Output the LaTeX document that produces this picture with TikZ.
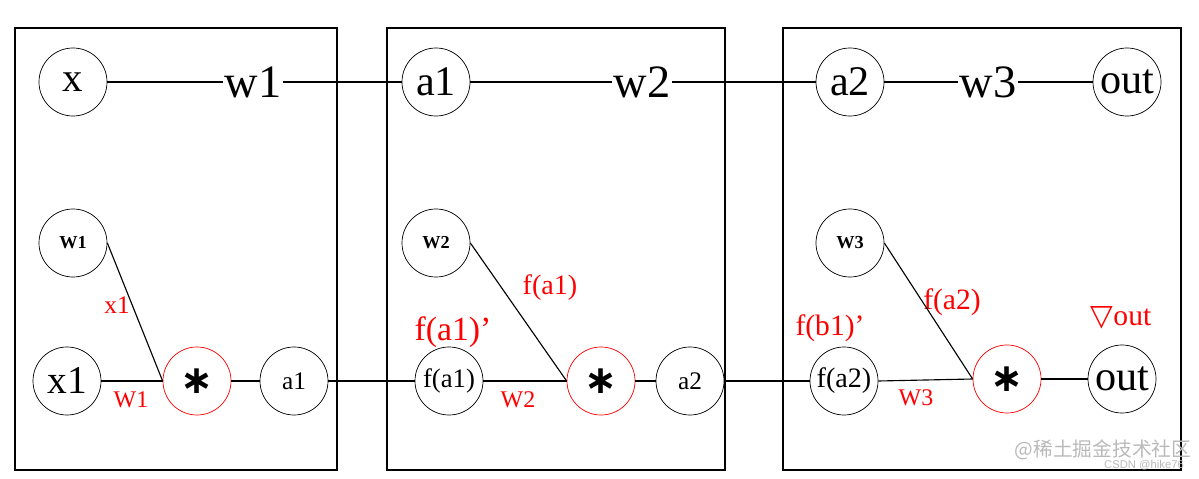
\documentclass[tikz,border=0pt]{standalone}
\usepackage{fontspec}
\setmainfont{Liberation Serif}
\newfontfamily\symfont{DejaVu Sans}
\newfontfamily\cjkfont{Noto Sans CJK SC}
\newfontfamily\wmfont{Liberation Sans}
\usetikzlibrary{positioning}
\newcommand{\fs}[1]{\fontsize{#1}{#1}\selectfont}

\begin{document}
\begin{tikzpicture}[x=0.025cm,y=-0.025cm,
    neuron/.style={draw,circle,minimum size=1.7cm,inner sep=0pt,line width=0.5pt},
    mult/.style={neuron,draw=red},
    frame/.style={draw,line width=0.9pt},
    link/.style={draw,line width=0.8pt},
    weight/.style={inner sep=1pt,font=\fs{33}},
    grad/.style={text=red,inner sep=1pt}]
    \useasboundingbox (0,0) rectangle (1199,479);
    
    % three frames
    \draw[frame] (15,28) rectangle (337,470);
    \draw[frame] (387,28) rectangle (725,470);
    \draw[frame] (783,28) rectangle (1181,470);
    
    % forward row
    \node[neuron,font=\fs{29}] (x) at (73,82) {x};
    \node[weight] (w1) at (253,82) {w1};
    \node[neuron,font=\fs{30}] (a1t) at (436,82) {a1};
    \node[weight] (w2) at (642,82) {w2};
    \node[neuron,font=\fs{30}] (a2t) at (850,82) {a2};
    \node[weight] (w3) at (988,82) {w3};
    \node[neuron,font=\fs{30}] (outt) at (1127,82) {out};
    
    \draw[link] (x) -- (w1);
    \draw[link] (w1) -- (a1t);
    \draw[link] (a1t) -- (w2);
    \draw[link] (w2) -- (a2t);
    \draw[link] (a2t) -- (w3);
    \draw[link] (w3) -- (outt);
    
    % first frame
    \node[neuron,font=\fs{13}\bfseries] (W1) at (73,243) {W1};
    \node[neuron,font=\fs{28}] (x1) at (67,381) {x1};
    \node[mult,font=\symfont\bfseries\fs{28}] (m1) at (197,381) {∗};
    \node[neuron,font=\fs{18}] (a1) at (294,381) {a1};
    \node[grad,font=\fs{18}] (gx1) at (117,305) {x1};
    \node[grad,font=\fs{17}] (gW1) at (131,400) {W1};
    
    % second frame
    \node[neuron,font=\fs{13}\bfseries] (W2) at (436,243) {W2};
    \node[neuron,font=\fs{19}] (fa1) at (449,381) {f(a1)};
    \node[mult,font=\symfont\bfseries\fs{28}] (m2) at (601,381) {∗};
    \node[neuron,font=\fs{18}] (a2) at (690,381) {a2};
    \node[grad,font=\fs{20}] (gfa1) at (550,288) {f(a1)};
    \node[grad,font=\fs{24}] (dfa1) at (453,332) {f(a1)’};
    \node[grad,font=\fs{17}] (gW2) at (518,400) {W2};
    
    % third frame
    \node[neuron,font=\fs{13}\bfseries] (W3) at (850,243) {W3};
    \node[neuron,font=\fs{20}] (fa2) at (844,381) {f(a2)};
    \node[mult,font=\symfont\bfseries\fs{28}] (m3) at (1007,379) {∗};
    \node[neuron,font=\fs{30}] (out) at (1122,379) {out};
    \node[grad,font=\fs{21}] (gfa2) at (952,302) {f(a2)};
    \node[grad,font=\fs{21}] (dfb1) at (830,328) {f(b1)’};
    \node[grad,font=\fs{21}] (gout) at (1121,318) {{\symfont ▽}out};
    \node[grad,font=\fs{17}] (gW3) at (916,398) {W3};
    
    \draw[link] (W1.east) -- (m1.west);
    \draw[link] (x1) -- (m1);
    \draw[link] (m1) -- (a1);
    \draw[link] (a1) -- (fa1);
    \draw[link] (W2.east) -- (m2.west);
    \draw[link] (fa1) -- (m2);
    \draw[link] (m2) -- (a2);
    \draw[link] (a2) -- (fa2);
    \draw[link] (W3.east) -- (m3.west);
    \draw[link] (fa2.east) -- (m3.west);
    \draw[link] (m3) -- (out);
    
    % watermark
    \node[text=gray!55,font=\cjkfont\fs{14},inner sep=0pt] (wm) at (1103,450) {@稀土掘金技术社区};
    \node[text=gray!55,font=\wmfont\fs{8},inner sep=0pt] (wm2) at (1144,465) {CSDN @hike76};
\end{tikzpicture}
\end{document}
